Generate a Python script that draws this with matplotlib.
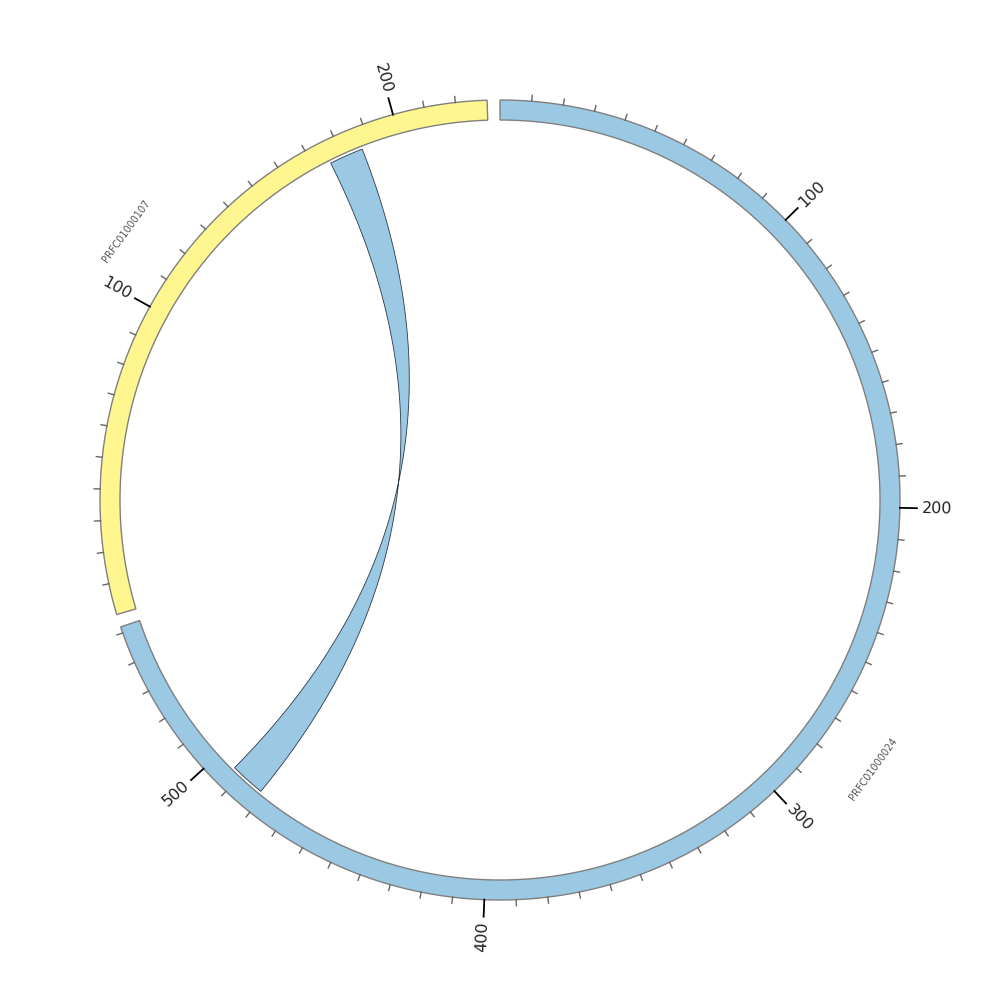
import numpy as np
import matplotlib
matplotlib.use("Agg")
import matplotlib.pyplot as plt
from matplotlib.patches import Polygon

# sequences, clockwise from the top
seq_names = ["PRFC01000024", "PRFC01000107"]
seq_lengths = [552, 230]
seq_colors = ["#9BC8E2", "#FFF68F"]

# one link: (seq index, start, end) on each side
link_a = (1, 175.5, 187.0)
link_b = (0, 481.5, 493.3)

gap = 1.85          # degrees between sequences
r_out, r_in = 400, 380
r_link = 377
minor_step, major_step = 10, 100

scale = (360 - gap * len(seq_lengths)) / sum(seq_lengths)
starts = []
pos = 0.0
for L in seq_lengths:
    starts.append(pos)
    pos += L * scale + gap


def ang(i, p):
    return starts[i] + p * scale


def xy(theta, r):
    t = np.radians(theta)
    return r * np.sin(t), r * np.cos(t)


fig = plt.figure(figsize=(10, 10), dpi=100)
ax = fig.add_axes([0, 0, 1, 1])
ax.set_xlim(-500, 500)
ax.set_ylim(-500, 500)
ax.set_aspect("equal")
ax.axis("off")

for i, (name, L, col) in enumerate(zip(seq_names, seq_lengths, seq_colors)):
    th = np.linspace(ang(i, 0), ang(i, L), 200)
    xo, yo = xy(th, r_out)
    xi, yi = xy(th[::-1], r_in)
    pts = np.column_stack([np.r_[xo, xi], np.r_[yo, yi]])
    ax.add_patch(Polygon(pts, closed=True, facecolor=col, edgecolor="#808080", lw=1.0))

    for p in range(minor_step, L, minor_step):
        t = ang(i, p)
        if p % major_step == 0:
            x0, y0 = xy(t, r_out)
            x1, y1 = xy(t, r_out + 17)
            ax.plot([x0, x1], [y0, y1], color="black", lw=1.3)
            xl, yl = xy(t, r_out + 22)
            if t % 360 < 180:
                rot, ha = 90 - t, "left"
            else:
                rot, ha = 270 - t, "right"
            ax.text(xl, yl, str(p), rotation=rot, ha=ha, va="center",
                    rotation_mode="anchor", fontsize=11.5, color="#222222")
        else:
            x0, y0 = xy(t, r_out)
            x1, y1 = xy(t, r_out + 6)
            ax.plot([x0, x1], [y0, y1], color="#666666", lw=1.0)

    mid = ang(i, L / 2)
    rot = 180 - mid
    while rot > 90:
        rot -= 180
    while rot < -90:
        rot += 180
    xm, ym = xy(mid, 460)
    ax.text(xm, ym, name, rotation=rot, ha="center", va="center",
            rotation_mode="anchor", fontsize=7, color="#555555")


# twisted ribbon: a-start joins b-start, a-end joins b-end
def bezier(p0, p2, n=100):
    t = np.linspace(0, 1, n)[:, None]
    p0 = np.array(p0)
    p2 = np.array(p2)
    return (1 - t) ** 2 * p0 + t ** 2 * p2


a1, a2 = ang(link_a[0], link_a[1]), ang(link_a[0], link_a[2])
b1, b2 = ang(link_b[0], link_b[1]), ang(link_b[0], link_b[2])
arc_a = np.column_stack(xy(np.linspace(a1, a2, 30), r_link))
arc_b = np.column_stack(xy(np.linspace(b2, b1, 30), r_link))
side1 = bezier(arc_a[-1], arc_b[0])
side2 = bezier(arc_b[-1], arc_a[0])
ribbon = np.vstack([arc_a, side1, arc_b, side2])
ax.add_patch(Polygon(ribbon, closed=True, facecolor=seq_colors[0],
                     edgecolor="#2b3a4a", lw=0.6))

fig.savefig("out.png", dpi=100)
